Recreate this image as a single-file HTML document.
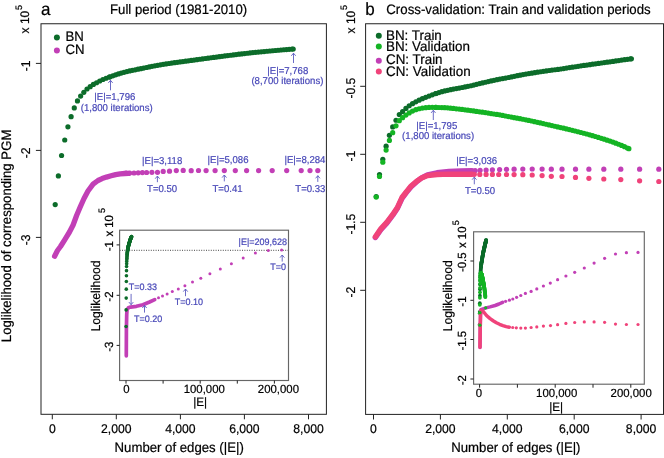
<!DOCTYPE html>
<html><head><meta charset="utf-8"><style>
html,body{margin:0;padding:0;background:#fff;}
body{width:664px;height:458px;overflow:hidden;}
svg{display:block;will-change:transform;}
text{font-family:"Liberation Sans", sans-serif;text-rendering:geometricPrecision;}
</style></head><body>
<svg width="664" height="458" viewBox="0 0 664 458" font-family='"Liberation Sans", sans-serif'>
<rect width="664" height="458" fill="#fff"/>
<rect x="41.00" y="23.75" width="285.40" height="390.55" fill="none" stroke="#222" stroke-width="1"/>
<line x1="35.90" y1="63.40" x2="41.00" y2="63.40" stroke="#222" stroke-width="1"/>
<line x1="35.90" y1="150.40" x2="41.00" y2="150.40" stroke="#222" stroke-width="1"/>
<line x1="35.90" y1="237.40" x2="41.00" y2="237.40" stroke="#222" stroke-width="1"/>
<line x1="52.30" y1="414.30" x2="52.30" y2="419.30" stroke="#222" stroke-width="1"/>
<line x1="116.30" y1="414.30" x2="116.30" y2="419.30" stroke="#222" stroke-width="1"/>
<line x1="180.40" y1="414.30" x2="180.40" y2="419.30" stroke="#222" stroke-width="1"/>
<line x1="244.40" y1="414.30" x2="244.40" y2="419.30" stroke="#222" stroke-width="1"/>
<line x1="308.50" y1="414.30" x2="308.50" y2="419.30" stroke="#222" stroke-width="1"/>
<text transform="translate(41.00,14.60) scale(1,1.04)" font-size="17" text-anchor="start" fill="#000" stroke="#000" stroke-width="0.2">a</text>
<text transform="translate(110.05,14.45) scale(1,1.04)" font-size="13.2" text-anchor="start" fill="#000" stroke="#000" stroke-width="0.2">Full period (1981-2010)</text>
<text transform="translate(28.70,33.40) rotate(-90) scale(1,1.04)" font-size="12" text-anchor="start" fill="#000" stroke="#000" stroke-width="0.2">x 10</text>
<text transform="translate(21.60,10.00) rotate(-90) scale(1,1.04)" font-size="9" text-anchor="start" fill="#000" stroke="#000" stroke-width="0.2">5</text>
<text transform="translate(11.10,342.20) rotate(-90) scale(1,1.04)" font-size="13.2" text-anchor="start" fill="#000" stroke="#000" stroke-width="0.2">Loglikelihood of corresponding PGM</text>
<text transform="translate(30.00,65.90) rotate(-90) scale(1,1.04)" font-size="12.2" text-anchor="middle" fill="#000" stroke="#000" stroke-width="0.2">-1</text>
<text transform="translate(30.00,152.90) rotate(-90) scale(1,1.04)" font-size="12.2" text-anchor="middle" fill="#000" stroke="#000" stroke-width="0.2">-2</text>
<text transform="translate(30.00,239.90) rotate(-90) scale(1,1.04)" font-size="12.2" text-anchor="middle" fill="#000" stroke="#000" stroke-width="0.2">-3</text>
<text transform="translate(52.30,432.60) scale(1,1.04)" font-size="12.2" text-anchor="middle" fill="#000" stroke="#000" stroke-width="0.2">0</text>
<text transform="translate(116.30,432.60) scale(1,1.04)" font-size="12.2" text-anchor="middle" fill="#000" stroke="#000" stroke-width="0.2">2,000</text>
<text transform="translate(180.40,432.60) scale(1,1.04)" font-size="12.2" text-anchor="middle" fill="#000" stroke="#000" stroke-width="0.2">4,000</text>
<text transform="translate(244.40,432.60) scale(1,1.04)" font-size="12.2" text-anchor="middle" fill="#000" stroke="#000" stroke-width="0.2">6,000</text>
<text transform="translate(308.50,432.60) scale(1,1.04)" font-size="12.2" text-anchor="middle" fill="#000" stroke="#000" stroke-width="0.2">8,000</text>
<text transform="translate(114.55,451.70) scale(1,1.04)" font-size="13.2" text-anchor="start" fill="#000" stroke="#000" stroke-width="0.2">Number of edges (|E|)</text>
<g fill="#0c6c2a"><circle cx="56.90" cy="37.50" r="3"/></g>
<g fill="#c23fb6"><circle cx="56.90" cy="50.60" r="3"/></g>
<text transform="translate(65.40,41.00) scale(1,1.04)" font-size="13.2" text-anchor="start" fill="#000" stroke="#000" stroke-width="0.2">BN</text>
<text transform="translate(65.40,53.90) scale(1,1.04)" font-size="13.2" text-anchor="start" fill="#000" stroke="#000" stroke-width="0.2">CN</text>
<polyline points="54.60,256.20 57.50,250.50 60.50,246.50 65.00,239.30 69.50,232.00 73.10,225.00 76.60,215.50 80.20,207.00 84.00,198.50 88.00,191.00 93.10,184.20 98.00,180.50 102.10,178.60 106.50,177.10 111.10,175.80 115.60,174.60 120.20,173.80 124.70,173.50 128.50,173.40" fill="none" stroke="#c23fb6" stroke-width="5.3" stroke-linecap="round" stroke-linejoin="round"/>
<g fill="#c23fb6"><circle cx="126.10" cy="173.00" r="2.6"/><circle cx="129.70" cy="173.00" r="2.6"/><circle cx="134.00" cy="173.00" r="2.6"/><circle cx="138.20" cy="172.80" r="2.6"/><circle cx="142.40" cy="172.60" r="2.6"/><circle cx="146.60" cy="172.50" r="2.6"/><circle cx="151.90" cy="172.30" r="2.6"/><circle cx="157.50" cy="172.30" r="2.6"/><circle cx="163.20" cy="171.40" r="2.6"/><circle cx="169.50" cy="171.20" r="2.6"/><circle cx="176.30" cy="170.60" r="2.6"/><circle cx="183.20" cy="170.40" r="2.6"/><circle cx="191.20" cy="170.70" r="2.6"/><circle cx="198.50" cy="170.50" r="2.6"/><circle cx="206.10" cy="170.60" r="2.6"/><circle cx="215.10" cy="170.60" r="2.6"/><circle cx="224.30" cy="170.60" r="2.6"/><circle cx="235.30" cy="170.60" r="2.6"/><circle cx="246.60" cy="170.60" r="2.6"/><circle cx="258.60" cy="170.60" r="2.6"/><circle cx="272.20" cy="170.60" r="2.6"/><circle cx="286.70" cy="170.60" r="2.6"/><circle cx="301.20" cy="170.60" r="2.6"/><circle cx="310.00" cy="170.60" r="2.6"/><circle cx="317.80" cy="170.60" r="2.6"/></g>
<g fill="#0c6c2a"><circle cx="55.20" cy="204.60" r="2.6"/><circle cx="58.38" cy="175.94" r="2.6"/><circle cx="61.56" cy="155.51" r="2.6"/><circle cx="64.74" cy="140.02" r="2.6"/><circle cx="67.92" cy="126.83" r="2.6"/><circle cx="71.10" cy="116.69" r="2.6"/><circle cx="74.28" cy="107.95" r="2.6"/><circle cx="77.46" cy="100.89" r="2.6"/><circle cx="80.64" cy="96.08" r="2.6"/><circle cx="83.82" cy="92.28" r="2.6"/><circle cx="87.00" cy="89.00" r="2.6"/><circle cx="90.18" cy="86.64" r="2.6"/><circle cx="93.36" cy="84.47" r="2.6"/><circle cx="96.54" cy="82.76" r="2.6"/><circle cx="99.72" cy="81.00" r="2.6"/><circle cx="102.90" cy="79.51" r="2.6"/><circle cx="106.08" cy="78.24" r="2.6"/><circle cx="109.26" cy="77.07" r="2.6"/><circle cx="110.00" cy="76.80" r="2.6"/><circle cx="112.80" cy="75.80" r="2.6"/><circle cx="115.60" cy="74.83" r="2.6"/><circle cx="118.40" cy="73.92" r="2.6"/><circle cx="121.20" cy="73.07" r="2.6"/><circle cx="124.00" cy="72.29" r="2.6"/><circle cx="126.80" cy="71.60" r="2.6"/><circle cx="129.60" cy="70.97" r="2.6"/><circle cx="132.40" cy="70.36" r="2.6"/><circle cx="135.20" cy="69.78" r="2.6"/><circle cx="138.00" cy="69.21" r="2.6"/><circle cx="140.80" cy="68.65" r="2.6"/><circle cx="143.60" cy="68.07" r="2.6"/><circle cx="146.40" cy="67.49" r="2.6"/><circle cx="149.20" cy="66.92" r="2.6"/><circle cx="152.00" cy="66.35" r="2.6"/><circle cx="154.80" cy="65.81" r="2.6"/><circle cx="157.60" cy="65.29" r="2.6"/><circle cx="160.40" cy="64.80" r="2.6"/><circle cx="163.20" cy="64.34" r="2.6"/><circle cx="166.00" cy="63.91" r="2.6"/><circle cx="168.80" cy="63.50" r="2.6"/><circle cx="171.60" cy="63.10" r="2.6"/><circle cx="174.40" cy="62.71" r="2.6"/><circle cx="177.20" cy="62.32" r="2.6"/><circle cx="180.00" cy="61.93" r="2.6"/><circle cx="182.80" cy="61.54" r="2.6"/><circle cx="185.60" cy="61.15" r="2.6"/><circle cx="188.40" cy="60.78" r="2.6"/><circle cx="191.20" cy="60.40" r="2.6"/><circle cx="194.00" cy="60.03" r="2.6"/><circle cx="196.80" cy="59.65" r="2.6"/><circle cx="199.60" cy="59.26" r="2.6"/><circle cx="202.40" cy="58.88" r="2.6"/><circle cx="205.20" cy="58.51" r="2.6"/><circle cx="208.00" cy="58.14" r="2.6"/><circle cx="210.80" cy="57.77" r="2.6"/><circle cx="213.60" cy="57.40" r="2.6"/><circle cx="216.40" cy="57.04" r="2.6"/><circle cx="219.20" cy="56.68" r="2.6"/><circle cx="222.00" cy="56.31" r="2.6"/><circle cx="224.80" cy="55.95" r="2.6"/><circle cx="227.60" cy="55.60" r="2.6"/><circle cx="230.40" cy="55.24" r="2.6"/><circle cx="233.20" cy="54.90" r="2.6"/><circle cx="236.00" cy="54.56" r="2.6"/><circle cx="238.80" cy="54.22" r="2.6"/><circle cx="241.60" cy="53.88" r="2.6"/><circle cx="244.40" cy="53.55" r="2.6"/><circle cx="247.20" cy="53.23" r="2.6"/><circle cx="250.00" cy="52.92" r="2.6"/><circle cx="252.80" cy="52.62" r="2.6"/><circle cx="255.60" cy="52.34" r="2.6"/><circle cx="258.40" cy="52.06" r="2.6"/><circle cx="261.20" cy="51.79" r="2.6"/><circle cx="264.00" cy="51.53" r="2.6"/><circle cx="266.80" cy="51.26" r="2.6"/><circle cx="269.60" cy="51.00" r="2.6"/><circle cx="272.40" cy="50.74" r="2.6"/><circle cx="275.20" cy="50.49" r="2.6"/><circle cx="278.00" cy="50.24" r="2.6"/><circle cx="280.80" cy="50.00" r="2.6"/><circle cx="283.60" cy="49.76" r="2.6"/><circle cx="286.40" cy="49.53" r="2.6"/><circle cx="289.20" cy="49.31" r="2.6"/><circle cx="292.00" cy="49.10" r="2.6"/><circle cx="293.20" cy="49.01" r="2.6"/></g>
<text transform="translate(114.85,100.10) scale(1,1.04)" font-size="9.6" text-anchor="middle" fill="#4848b8" stroke="#4848b8" stroke-width="0.2">|E|=1,796</text>
<text transform="translate(116.70,110.50) scale(1,1.04)" font-size="9.6" text-anchor="middle" fill="#4848b8" stroke="#4848b8" stroke-width="0.2">(1,800 iterations)</text>
<path d="M110.50,90.30 L110.50,80.30 M108.30,82.90 L110.50,80.30 L112.70,82.90" fill="none" stroke="#5a5ac0" stroke-width="0.9"/>
<text transform="translate(287.75,73.80) scale(1,1.04)" font-size="9.6" text-anchor="middle" fill="#4848b8" stroke="#4848b8" stroke-width="0.2">|E|=7,768</text>
<text transform="translate(287.40,84.00) scale(1,1.04)" font-size="9.6" text-anchor="middle" fill="#4848b8" stroke="#4848b8" stroke-width="0.2">(8,700 iterations)</text>
<path d="M293.50,63.00 L293.50,53.20 M291.30,55.80 L293.50,53.20 L295.70,55.80" fill="none" stroke="#5a5ac0" stroke-width="0.9"/>
<text transform="translate(162.15,164.20) scale(1,1.04)" font-size="9.6" text-anchor="middle" fill="#4848b8" stroke="#4848b8" stroke-width="0.2">|E|=3,118</text>
<path d="M157.40,182.20 L157.40,176.10 M155.20,178.70 L157.40,176.10 L159.60,178.70" fill="none" stroke="#5a5ac0" stroke-width="0.9"/>
<text transform="translate(162.10,191.80) scale(1,1.04)" font-size="9.6" text-anchor="middle" fill="#4848b8" stroke="#4848b8" stroke-width="0.2">T=0.50</text>
<text transform="translate(228.00,162.80) scale(1,1.04)" font-size="9.6" text-anchor="middle" fill="#4848b8" stroke="#4848b8" stroke-width="0.2">|E|=5,086</text>
<path d="M224.30,181.40 L224.30,175.00 M222.10,177.60 L224.30,175.00 L226.50,177.60" fill="none" stroke="#5a5ac0" stroke-width="0.9"/>
<text transform="translate(227.50,191.70) scale(1,1.04)" font-size="9.6" text-anchor="middle" fill="#4848b8" stroke="#4848b8" stroke-width="0.2">T=0.41</text>
<text transform="translate(304.90,162.60) scale(1,1.04)" font-size="9.6" text-anchor="middle" fill="#4848b8" stroke="#4848b8" stroke-width="0.2">|E|=8,284</text>
<path d="M317.80,181.90 L317.80,175.70 M315.60,178.30 L317.80,175.70 L320.00,178.30" fill="none" stroke="#5a5ac0" stroke-width="0.9"/>
<text transform="translate(310.35,191.70) scale(1,1.04)" font-size="9.6" text-anchor="middle" fill="#4848b8" stroke="#4848b8" stroke-width="0.2">T=0.33</text>
<rect x="119.6" y="230.2" width="168.90" height="150.30" fill="#fff" stroke="none"/>
<line x1="119.60" y1="250.30" x2="288.50" y2="250.30" stroke="#444" stroke-width="1" stroke-dasharray="1 1.4"/>
<polyline points="126.30,355.80 126.40,330.00 126.70,315.00 127.00,310.00 128.40,307.80 130.50,307.10 136.40,306.30 142.90,304.70 149.50,302.00 154.70,299.60" fill="none" stroke="#c23fb6" stroke-width="3.7" stroke-linecap="round" stroke-linejoin="round"/>
<g fill="#c23fb6"><circle cx="158.50" cy="297.70" r="1.5"/><circle cx="162.50" cy="295.90" r="1.5"/><circle cx="167.10" cy="294.00" r="1.5"/><circle cx="172.30" cy="291.60" r="1.5"/><circle cx="178.30" cy="289.00" r="1.5"/><circle cx="184.90" cy="285.80" r="1.5"/><circle cx="192.50" cy="282.10" r="1.5"/><circle cx="200.80" cy="278.30" r="1.5"/><circle cx="209.90" cy="273.70" r="1.5"/><circle cx="220.30" cy="268.90" r="1.5"/><circle cx="231.40" cy="263.70" r="1.5"/><circle cx="243.20" cy="258.00" r="1.5"/><circle cx="255.40" cy="252.90" r="1.5"/><circle cx="268.30" cy="250.40" r="1.5"/><circle cx="281.60" cy="250.00" r="1.5"/></g>
<g fill="#0c6c2a"><circle cx="126.07" cy="326.46" r="1.8"/><circle cx="126.14" cy="309.90" r="1.8"/><circle cx="126.21" cy="298.10" r="1.8"/><circle cx="126.29" cy="289.16" r="1.8"/><circle cx="126.36" cy="281.54" r="1.8"/><circle cx="126.44" cy="275.68" r="1.8"/><circle cx="126.51" cy="270.63" r="1.8"/><circle cx="126.58" cy="266.56" r="1.8"/><circle cx="126.66" cy="263.78" r="1.8"/><circle cx="126.73" cy="261.58" r="1.8"/><circle cx="126.80" cy="259.69" r="1.8"/><circle cx="126.88" cy="258.33" r="1.8"/><circle cx="126.95" cy="257.07" r="1.8"/><circle cx="127.03" cy="256.08" r="1.8"/><circle cx="127.10" cy="255.07" r="1.8"/><circle cx="127.17" cy="254.21" r="1.8"/><circle cx="127.25" cy="253.47" r="1.8"/><circle cx="127.32" cy="252.80" r="1.8"/><circle cx="127.34" cy="252.64" r="1.8"/><circle cx="127.40" cy="252.06" r="1.8"/><circle cx="127.47" cy="251.50" r="1.8"/><circle cx="127.53" cy="250.98" r="1.8"/><circle cx="127.60" cy="250.48" r="1.8"/><circle cx="127.66" cy="250.04" r="1.8"/><circle cx="127.73" cy="249.64" r="1.8"/><circle cx="127.79" cy="249.27" r="1.8"/><circle cx="127.86" cy="248.92" r="1.8"/><circle cx="127.92" cy="248.58" r="1.8"/><circle cx="127.99" cy="248.26" r="1.8"/><circle cx="128.05" cy="247.93" r="1.8"/><circle cx="128.12" cy="247.60" r="1.8"/><circle cx="128.18" cy="247.26" r="1.8"/><circle cx="128.25" cy="246.93" r="1.8"/><circle cx="128.31" cy="246.61" r="1.8"/><circle cx="128.37" cy="246.29" r="1.8"/><circle cx="128.44" cy="245.99" r="1.8"/><circle cx="128.50" cy="245.71" r="1.8"/><circle cx="128.57" cy="245.45" r="1.8"/><circle cx="128.63" cy="245.20" r="1.8"/><circle cx="128.70" cy="244.96" r="1.8"/><circle cx="128.76" cy="244.73" r="1.8"/><circle cx="128.83" cy="244.50" r="1.8"/><circle cx="128.89" cy="244.28" r="1.8"/><circle cx="128.96" cy="244.05" r="1.8"/><circle cx="129.02" cy="243.83" r="1.8"/><circle cx="129.09" cy="243.60" r="1.8"/><circle cx="129.15" cy="243.38" r="1.8"/><circle cx="129.22" cy="243.17" r="1.8"/><circle cx="129.28" cy="242.95" r="1.8"/><circle cx="129.35" cy="242.73" r="1.8"/><circle cx="129.41" cy="242.51" r="1.8"/><circle cx="129.48" cy="242.29" r="1.8"/><circle cx="129.54" cy="242.07" r="1.8"/><circle cx="129.61" cy="241.86" r="1.8"/><circle cx="129.67" cy="241.65" r="1.8"/><circle cx="129.74" cy="241.44" r="1.8"/><circle cx="129.80" cy="241.23" r="1.8"/><circle cx="129.87" cy="241.02" r="1.8"/><circle cx="129.93" cy="240.81" r="1.8"/><circle cx="130.00" cy="240.60" r="1.8"/><circle cx="130.06" cy="240.39" r="1.8"/><circle cx="130.13" cy="240.19" r="1.8"/><circle cx="130.19" cy="239.99" r="1.8"/><circle cx="130.26" cy="239.79" r="1.8"/><circle cx="130.32" cy="239.60" r="1.8"/><circle cx="130.39" cy="239.40" r="1.8"/><circle cx="130.45" cy="239.21" r="1.8"/><circle cx="130.52" cy="239.02" r="1.8"/><circle cx="130.58" cy="238.85" r="1.8"/><circle cx="130.65" cy="238.67" r="1.8"/><circle cx="130.71" cy="238.51" r="1.8"/><circle cx="130.78" cy="238.35" r="1.8"/><circle cx="130.84" cy="238.19" r="1.8"/><circle cx="130.91" cy="238.04" r="1.8"/><circle cx="130.97" cy="237.89" r="1.8"/><circle cx="131.03" cy="237.74" r="1.8"/><circle cx="131.10" cy="237.59" r="1.8"/><circle cx="131.16" cy="237.44" r="1.8"/><circle cx="131.23" cy="237.30" r="1.8"/><circle cx="131.29" cy="237.16" r="1.8"/><circle cx="131.36" cy="237.02" r="1.8"/><circle cx="131.42" cy="236.89" r="1.8"/><circle cx="131.49" cy="236.76" r="1.8"/><circle cx="131.55" cy="236.64" r="1.8"/><circle cx="131.58" cy="236.59" r="1.8"/></g>
<rect x="119.60" y="230.20" width="168.90" height="150.30" fill="none" stroke="#666" stroke-width="1.15"/>
<line x1="116.60" y1="244.90" x2="119.60" y2="244.90" stroke="#222" stroke-width="1"/>
<line x1="116.60" y1="295.30" x2="119.60" y2="295.30" stroke="#222" stroke-width="1"/>
<line x1="116.60" y1="345.40" x2="119.60" y2="345.40" stroke="#222" stroke-width="1"/>
<line x1="126.00" y1="380.50" x2="126.00" y2="383.60" stroke="#222" stroke-width="1"/>
<line x1="163.10" y1="380.50" x2="163.10" y2="383.60" stroke="#222" stroke-width="1"/>
<line x1="200.20" y1="380.50" x2="200.20" y2="383.60" stroke="#222" stroke-width="1"/>
<line x1="237.30" y1="380.50" x2="237.30" y2="383.60" stroke="#222" stroke-width="1"/>
<line x1="274.40" y1="380.50" x2="274.40" y2="383.60" stroke="#222" stroke-width="1"/>
<text transform="translate(113.00,246.20) rotate(-90) scale(1,1.04)" font-size="11.4" text-anchor="middle" fill="#000" stroke="#000" stroke-width="0.2">-1</text>
<text transform="translate(113.00,296.60) rotate(-90) scale(1,1.04)" font-size="11.4" text-anchor="middle" fill="#000" stroke="#000" stroke-width="0.2">-2</text>
<text transform="translate(113.00,346.70) rotate(-90) scale(1,1.04)" font-size="11.4" text-anchor="middle" fill="#000" stroke="#000" stroke-width="0.2">-3</text>
<text transform="translate(112.60,236.60) rotate(-90) scale(1,1.04)" font-size="11.4" text-anchor="start" fill="#000" stroke="#000" stroke-width="0.2">x 10</text>
<text transform="translate(104.90,213.00) rotate(-90) scale(1,1.04)" font-size="9" text-anchor="start" fill="#000" stroke="#000" stroke-width="0.2">5</text>
<text transform="translate(99.80,331.50) rotate(-90) scale(1,1.04)" font-size="12.2" text-anchor="start" fill="#000" stroke="#000" stroke-width="0.2">Loglikelihood</text>
<text transform="translate(126.50,393.40) scale(1,1.04)" font-size="11.4" text-anchor="middle" fill="#000" stroke="#000" stroke-width="0.2">0</text>
<text transform="translate(204.25,393.40) scale(1,1.04)" font-size="11.4" text-anchor="middle" fill="#000" stroke="#000" stroke-width="0.2">100,000</text>
<text transform="translate(278.40,393.40) scale(1,1.04)" font-size="11.4" text-anchor="middle" fill="#000" stroke="#000" stroke-width="0.2">200,000</text>
<text transform="translate(200.10,406.10) scale(1,1.04)" font-size="11.7" text-anchor="middle" fill="#000" stroke="#000" stroke-width="0.2">|E|</text>
<text transform="translate(262.80,245.40) scale(1,1.04)" font-size="9.0" text-anchor="middle" fill="#4848b8" stroke="#4848b8" stroke-width="0.2">|E|=209,628</text>
<path d="M282.20,261.60 L282.20,255.00 M280.00,257.60 L282.20,255.00 L284.40,257.60" fill="none" stroke="#5a5ac0" stroke-width="0.9"/>
<text transform="translate(278.10,270.40) scale(1,1.04)" font-size="9.0" text-anchor="middle" fill="#4848b8" stroke="#4848b8" stroke-width="0.2">T=0</text>
<text transform="translate(142.95,290.40) scale(1,1.04)" font-size="9.0" text-anchor="middle" fill="#4848b8" stroke="#4848b8" stroke-width="0.2">T=0.33</text>
<path d="M131.10,293.90 L131.10,304.70 M128.90,302.10 L131.10,304.70 L133.30,302.10" fill="none" stroke="#5a5ac0" stroke-width="0.9"/>
<text transform="translate(148.15,322.00) scale(1,1.04)" font-size="9.0" text-anchor="middle" fill="#4848b8" stroke="#4848b8" stroke-width="0.2">T=0.20</text>
<path d="M144.50,312.60 L144.50,305.40 M142.30,308.00 L144.50,305.40 L146.70,308.00" fill="none" stroke="#5a5ac0" stroke-width="0.9"/>
<text transform="translate(189.00,305.40) scale(1,1.04)" font-size="9.0" text-anchor="middle" fill="#4848b8" stroke="#4848b8" stroke-width="0.2">T=0.10</text>
<path d="M185.50,296.20 L185.50,289.00 M183.30,291.60 L185.50,289.00 L187.70,291.60" fill="none" stroke="#5a5ac0" stroke-width="0.9"/>
<rect x="365.60" y="23.75" width="297.90" height="390.65" fill="none" stroke="#222" stroke-width="1"/>
<line x1="360.20" y1="86.30" x2="365.60" y2="86.30" stroke="#222" stroke-width="1"/>
<line x1="360.20" y1="154.30" x2="365.60" y2="154.30" stroke="#222" stroke-width="1"/>
<line x1="360.20" y1="222.30" x2="365.60" y2="222.30" stroke="#222" stroke-width="1"/>
<line x1="360.20" y1="290.30" x2="365.60" y2="290.30" stroke="#222" stroke-width="1"/>
<line x1="373.50" y1="414.40" x2="373.50" y2="419.50" stroke="#222" stroke-width="1"/>
<line x1="440.40" y1="414.40" x2="440.40" y2="419.50" stroke="#222" stroke-width="1"/>
<line x1="507.30" y1="414.40" x2="507.30" y2="419.50" stroke="#222" stroke-width="1"/>
<line x1="574.20" y1="414.40" x2="574.20" y2="419.50" stroke="#222" stroke-width="1"/>
<line x1="641.10" y1="414.40" x2="641.10" y2="419.50" stroke="#222" stroke-width="1"/>
<text transform="translate(365.20,14.50) scale(1,1.04)" font-size="17" text-anchor="start" fill="#000" stroke="#000" stroke-width="0.2">b</text>
<text transform="translate(386.30,14.45) scale(1,1.04)" font-size="13.26" text-anchor="start" fill="#000" stroke="#000" stroke-width="0.2">Cross-validation: Train and validation periods</text>
<text transform="translate(354.50,33.40) rotate(-90) scale(1,1.04)" font-size="12" text-anchor="start" fill="#000" stroke="#000" stroke-width="0.2">x 10</text>
<text transform="translate(347.40,10.00) rotate(-90) scale(1,1.04)" font-size="9" text-anchor="start" fill="#000" stroke="#000" stroke-width="0.2">5</text>
<text transform="translate(355.10,88.10) rotate(-90) scale(1,1.04)" font-size="12.2" text-anchor="middle" fill="#000" stroke="#000" stroke-width="0.2">-0.5</text>
<text transform="translate(355.10,156.10) rotate(-90) scale(1,1.04)" font-size="12.2" text-anchor="middle" fill="#000" stroke="#000" stroke-width="0.2">-1</text>
<text transform="translate(355.10,224.10) rotate(-90) scale(1,1.04)" font-size="12.2" text-anchor="middle" fill="#000" stroke="#000" stroke-width="0.2">-1.5</text>
<text transform="translate(355.10,292.10) rotate(-90) scale(1,1.04)" font-size="12.2" text-anchor="middle" fill="#000" stroke="#000" stroke-width="0.2">-2</text>
<text transform="translate(373.50,432.80) scale(1,1.04)" font-size="12.2" text-anchor="middle" fill="#000" stroke="#000" stroke-width="0.2">0</text>
<text transform="translate(440.40,432.80) scale(1,1.04)" font-size="12.2" text-anchor="middle" fill="#000" stroke="#000" stroke-width="0.2">2,000</text>
<text transform="translate(507.30,432.80) scale(1,1.04)" font-size="12.2" text-anchor="middle" fill="#000" stroke="#000" stroke-width="0.2">4,000</text>
<text transform="translate(574.20,432.80) scale(1,1.04)" font-size="12.2" text-anchor="middle" fill="#000" stroke="#000" stroke-width="0.2">6,000</text>
<text transform="translate(641.10,432.80) scale(1,1.04)" font-size="12.2" text-anchor="middle" fill="#000" stroke="#000" stroke-width="0.2">8,000</text>
<text transform="translate(451.25,451.70) scale(1,1.04)" font-size="13.2" text-anchor="start" fill="#000" stroke="#000" stroke-width="0.2">Number of edges (|E|)</text>
<g fill="#0c6c2a"><circle cx="378.80" cy="35.80" r="3"/></g>
<text transform="translate(386.00,39.60) scale(1,1.04)" font-size="13.4" text-anchor="start" fill="#000" stroke="#000" stroke-width="0.2">BN: Train</text>
<g fill="#14b424"><circle cx="378.80" cy="46.60" r="3"/></g>
<text transform="translate(386.00,50.50) scale(1,1.04)" font-size="13.4" text-anchor="start" fill="#000" stroke="#000" stroke-width="0.2">BN: Validation</text>
<g fill="#c23fb6"><circle cx="378.80" cy="60.80" r="3"/></g>
<text transform="translate(386.00,64.10) scale(1,1.04)" font-size="13.4" text-anchor="start" fill="#000" stroke="#000" stroke-width="0.2">CN: Train</text>
<g fill="#f0437a"><circle cx="378.80" cy="71.60" r="3"/></g>
<text transform="translate(386.00,75.80) scale(1,1.04)" font-size="13.4" text-anchor="start" fill="#000" stroke="#000" stroke-width="0.2">CN: Validation</text>
<g fill="#0c6c2a"><circle cx="376.20" cy="196.50" r="2.6"/><circle cx="379.50" cy="174.55" r="2.6"/><circle cx="382.80" cy="159.24" r="2.6"/><circle cx="386.10" cy="146.22" r="2.6"/><circle cx="389.40" cy="135.29" r="2.6"/><circle cx="392.70" cy="126.97" r="2.6"/><circle cx="396.00" cy="120.26" r="2.6"/><circle cx="399.30" cy="114.60" r="2.6"/><circle cx="402.60" cy="111.58" r="2.6"/><circle cx="405.90" cy="108.40" r="2.6"/><circle cx="409.20" cy="105.74" r="2.6"/><circle cx="412.50" cy="103.65" r="2.6"/><circle cx="415.80" cy="101.84" r="2.6"/><circle cx="419.10" cy="100.17" r="2.6"/><circle cx="422.40" cy="98.68" r="2.6"/><circle cx="425.70" cy="97.33" r="2.6"/><circle cx="429.00" cy="96.08" r="2.6"/><circle cx="432.30" cy="94.83" r="2.6"/><circle cx="435.60" cy="93.62" r="2.6"/><circle cx="436.00" cy="93.48" r="2.6"/><circle cx="438.90" cy="92.54" r="2.6"/><circle cx="441.80" cy="91.71" r="2.6"/><circle cx="444.70" cy="90.97" r="2.6"/><circle cx="447.60" cy="90.31" r="2.6"/><circle cx="450.50" cy="89.69" r="2.6"/><circle cx="453.40" cy="89.12" r="2.6"/><circle cx="456.30" cy="88.57" r="2.6"/><circle cx="459.20" cy="88.03" r="2.6"/><circle cx="462.10" cy="87.48" r="2.6"/><circle cx="465.00" cy="86.93" r="2.6"/><circle cx="467.90" cy="86.35" r="2.6"/><circle cx="470.80" cy="85.73" r="2.6"/><circle cx="473.70" cy="85.03" r="2.6"/><circle cx="476.60" cy="84.32" r="2.6"/><circle cx="479.50" cy="83.61" r="2.6"/><circle cx="482.40" cy="82.92" r="2.6"/><circle cx="485.30" cy="82.23" r="2.6"/><circle cx="488.20" cy="81.56" r="2.6"/><circle cx="491.10" cy="80.92" r="2.6"/><circle cx="494.00" cy="80.31" r="2.6"/><circle cx="496.90" cy="79.70" r="2.6"/><circle cx="499.80" cy="79.05" r="2.6"/><circle cx="502.70" cy="78.56" r="2.6"/><circle cx="505.60" cy="78.04" r="2.6"/><circle cx="508.50" cy="77.48" r="2.6"/><circle cx="511.40" cy="76.90" r="2.6"/><circle cx="514.30" cy="76.31" r="2.6"/><circle cx="517.20" cy="75.72" r="2.6"/><circle cx="520.10" cy="75.14" r="2.6"/><circle cx="523.00" cy="74.59" r="2.6"/><circle cx="525.90" cy="74.08" r="2.6"/><circle cx="528.80" cy="73.61" r="2.6"/><circle cx="531.70" cy="73.13" r="2.6"/><circle cx="534.60" cy="72.66" r="2.6"/><circle cx="537.50" cy="72.19" r="2.6"/><circle cx="540.40" cy="71.74" r="2.6"/><circle cx="543.30" cy="71.30" r="2.6"/><circle cx="546.20" cy="70.88" r="2.6"/><circle cx="549.10" cy="70.48" r="2.6"/><circle cx="552.00" cy="70.10" r="2.6"/><circle cx="554.90" cy="69.73" r="2.6"/><circle cx="557.80" cy="69.39" r="2.6"/><circle cx="560.70" cy="69.02" r="2.6"/><circle cx="563.60" cy="68.54" r="2.6"/><circle cx="566.50" cy="68.08" r="2.6"/><circle cx="569.40" cy="67.62" r="2.6"/><circle cx="572.30" cy="67.18" r="2.6"/><circle cx="575.20" cy="66.74" r="2.6"/><circle cx="578.10" cy="66.30" r="2.6"/><circle cx="581.00" cy="65.87" r="2.6"/><circle cx="583.90" cy="65.45" r="2.6"/><circle cx="586.80" cy="65.04" r="2.6"/><circle cx="589.70" cy="64.63" r="2.6"/><circle cx="592.60" cy="64.21" r="2.6"/><circle cx="595.50" cy="63.79" r="2.6"/><circle cx="598.40" cy="63.38" r="2.6"/><circle cx="601.30" cy="62.98" r="2.6"/><circle cx="604.20" cy="62.58" r="2.6"/><circle cx="607.10" cy="62.18" r="2.6"/><circle cx="610.00" cy="61.79" r="2.6"/><circle cx="612.90" cy="61.39" r="2.6"/><circle cx="615.80" cy="60.96" r="2.6"/><circle cx="618.70" cy="60.53" r="2.6"/><circle cx="621.60" cy="60.11" r="2.6"/><circle cx="624.50" cy="59.70" r="2.6"/><circle cx="627.40" cy="59.28" r="2.6"/><circle cx="630.30" cy="58.88" r="2.6"/><circle cx="631.40" cy="58.73" r="2.6"/></g>
<g fill="#14b424"><circle cx="376.20" cy="197.10" r="2.6"/><circle cx="379.50" cy="176.51" r="2.6"/><circle cx="382.80" cy="162.19" r="2.6"/><circle cx="386.10" cy="150.05" r="2.6"/><circle cx="389.40" cy="140.43" r="2.6"/><circle cx="392.70" cy="132.69" r="2.6"/><circle cx="396.00" cy="125.80" r="2.6"/><circle cx="399.30" cy="120.67" r="2.6"/><circle cx="402.60" cy="117.67" r="2.6"/><circle cx="405.90" cy="115.12" r="2.6"/><circle cx="409.20" cy="112.89" r="2.6"/><circle cx="412.50" cy="111.11" r="2.6"/><circle cx="415.80" cy="109.70" r="2.6"/><circle cx="419.10" cy="108.73" r="2.6"/><circle cx="422.40" cy="108.06" r="2.6"/><circle cx="425.70" cy="107.71" r="2.6"/><circle cx="429.00" cy="107.46" r="2.6"/><circle cx="432.30" cy="107.34" r="2.6"/><circle cx="435.60" cy="107.39" r="2.6"/><circle cx="436.00" cy="107.40" r="2.6"/><circle cx="438.90" cy="107.48" r="2.6"/><circle cx="441.80" cy="107.58" r="2.6"/><circle cx="444.70" cy="107.68" r="2.6"/><circle cx="447.60" cy="107.85" r="2.6"/><circle cx="450.50" cy="108.13" r="2.6"/><circle cx="453.40" cy="108.46" r="2.6"/><circle cx="456.30" cy="108.79" r="2.6"/><circle cx="459.20" cy="109.10" r="2.6"/><circle cx="462.10" cy="109.43" r="2.6"/><circle cx="465.00" cy="109.78" r="2.6"/><circle cx="467.90" cy="110.14" r="2.6"/><circle cx="470.80" cy="110.53" r="2.6"/><circle cx="473.70" cy="110.94" r="2.6"/><circle cx="476.60" cy="111.38" r="2.6"/><circle cx="479.50" cy="111.83" r="2.6"/><circle cx="482.40" cy="112.17" r="2.6"/><circle cx="485.30" cy="112.59" r="2.6"/><circle cx="488.20" cy="113.05" r="2.6"/><circle cx="491.10" cy="113.53" r="2.6"/><circle cx="494.00" cy="114.01" r="2.6"/><circle cx="496.90" cy="114.47" r="2.6"/><circle cx="499.80" cy="114.87" r="2.6"/><circle cx="502.70" cy="115.45" r="2.6"/><circle cx="505.60" cy="116.01" r="2.6"/><circle cx="508.50" cy="116.56" r="2.6"/><circle cx="511.40" cy="117.10" r="2.6"/><circle cx="514.30" cy="117.63" r="2.6"/><circle cx="517.20" cy="118.17" r="2.6"/><circle cx="520.10" cy="118.71" r="2.6"/><circle cx="523.00" cy="119.25" r="2.6"/><circle cx="525.90" cy="119.81" r="2.6"/><circle cx="528.80" cy="120.40" r="2.6"/><circle cx="531.70" cy="121.01" r="2.6"/><circle cx="534.60" cy="121.64" r="2.6"/><circle cx="537.50" cy="122.28" r="2.6"/><circle cx="540.40" cy="122.93" r="2.6"/><circle cx="543.30" cy="123.59" r="2.6"/><circle cx="546.20" cy="124.25" r="2.6"/><circle cx="549.10" cy="124.91" r="2.6"/><circle cx="552.00" cy="125.58" r="2.6"/><circle cx="554.90" cy="126.24" r="2.6"/><circle cx="557.80" cy="126.90" r="2.6"/><circle cx="560.70" cy="127.55" r="2.6"/><circle cx="563.60" cy="128.21" r="2.6"/><circle cx="566.50" cy="128.89" r="2.6"/><circle cx="569.40" cy="129.58" r="2.6"/><circle cx="572.30" cy="130.28" r="2.6"/><circle cx="575.20" cy="131.01" r="2.6"/><circle cx="578.10" cy="131.77" r="2.6"/><circle cx="581.00" cy="132.48" r="2.6"/><circle cx="583.90" cy="133.23" r="2.6"/><circle cx="586.80" cy="134.00" r="2.6"/><circle cx="589.70" cy="134.80" r="2.6"/><circle cx="592.60" cy="135.64" r="2.6"/><circle cx="595.50" cy="136.50" r="2.6"/><circle cx="598.40" cy="137.41" r="2.6"/><circle cx="601.30" cy="138.29" r="2.6"/><circle cx="604.20" cy="139.19" r="2.6"/><circle cx="607.10" cy="140.13" r="2.6"/><circle cx="610.00" cy="141.11" r="2.6"/><circle cx="612.90" cy="142.12" r="2.6"/><circle cx="615.80" cy="143.17" r="2.6"/><circle cx="618.70" cy="144.25" r="2.6"/><circle cx="621.60" cy="145.43" r="2.6"/><circle cx="624.50" cy="146.70" r="2.6"/><circle cx="627.40" cy="148.01" r="2.6"/><circle cx="628.90" cy="148.70" r="2.6"/></g>
<polyline points="375.40,237.50 380.80,229.70 386.80,223.10 392.80,215.20 397.60,208.00 402.00,198.30 406.50,192.40 411.10,186.80 416.40,181.91 421.60,177.83 427.50,174.88 437.00,172.80 449.00,171.50 461.00,170.95 472.00,170.60" fill="none" stroke="#c23fb6" stroke-width="5.4" stroke-linecap="round" stroke-linejoin="round"/>
<g fill="#c23fb6"><circle cx="475.20" cy="170.50" r="2.6"/><circle cx="480.10" cy="170.30" r="2.6"/><circle cx="486.10" cy="170.10" r="2.6"/><circle cx="492.40" cy="169.80" r="2.6"/><circle cx="499.60" cy="169.50" r="2.6"/><circle cx="506.50" cy="169.30" r="2.6"/><circle cx="514.10" cy="169.20" r="2.6"/><circle cx="522.80" cy="169.10" r="2.6"/><circle cx="532.20" cy="169.00" r="2.6"/><circle cx="542.10" cy="169.10" r="2.6"/><circle cx="551.30" cy="169.20" r="2.6"/><circle cx="562.00" cy="169.20" r="2.6"/><circle cx="575.50" cy="169.20" r="2.6"/><circle cx="588.90" cy="169.20" r="2.6"/><circle cx="603.80" cy="169.20" r="2.6"/><circle cx="620.80" cy="169.20" r="2.6"/><circle cx="639.60" cy="169.20" r="2.6"/><circle cx="658.80" cy="169.20" r="2.6"/></g>
<polyline points="375.40,236.70 380.80,228.90 386.80,222.30 392.80,214.40 397.60,207.20 402.00,197.50 406.50,191.60 411.10,186.00 416.40,181.50 421.60,177.90 427.50,175.60 437.00,174.50 449.00,174.10 461.00,174.20 472.00,174.30" fill="none" stroke="#f0437a" stroke-width="5.4" stroke-linecap="round" stroke-linejoin="round"/>
<g fill="#f0437a"><circle cx="474.30" cy="174.30" r="2.6"/><circle cx="479.80" cy="174.40" r="2.6"/><circle cx="486.10" cy="174.40" r="2.6"/><circle cx="492.40" cy="174.40" r="2.6"/><circle cx="498.70" cy="174.50" r="2.6"/><circle cx="506.50" cy="174.50" r="2.6"/><circle cx="514.10" cy="174.60" r="2.6"/><circle cx="522.80" cy="174.70" r="2.6"/><circle cx="532.20" cy="175.00" r="2.6"/><circle cx="542.10" cy="175.60" r="2.6"/><circle cx="551.30" cy="176.30" r="2.6"/><circle cx="562.00" cy="176.50" r="2.6"/><circle cx="575.50" cy="177.40" r="2.6"/><circle cx="588.90" cy="178.30" r="2.6"/><circle cx="603.80" cy="179.00" r="2.6"/><circle cx="620.80" cy="179.60" r="2.6"/><circle cx="639.60" cy="180.80" r="2.6"/><circle cx="658.80" cy="181.50" r="2.6"/></g>
<text transform="translate(436.75,128.90) scale(1,1.04)" font-size="9.6" text-anchor="middle" fill="#4848b8" stroke="#4848b8" stroke-width="0.2">|E|=1,795</text>
<text transform="translate(438.10,138.60) scale(1,1.04)" font-size="9.6" text-anchor="middle" fill="#4848b8" stroke="#4848b8" stroke-width="0.2">(1,800 iterations)</text>
<path d="M433.30,120.00 L433.30,110.30 M431.10,112.90 L433.30,110.30 L435.50,112.90" fill="none" stroke="#5a5ac0" stroke-width="0.9"/>
<text transform="translate(476.70,163.60) scale(1,1.04)" font-size="9.6" text-anchor="middle" fill="#4848b8" stroke="#4848b8" stroke-width="0.2">|E|=3,036</text>
<path d="M474.30,184.30 L474.30,177.10 M472.10,179.70 L474.30,177.10 L476.50,179.70" fill="none" stroke="#5a5ac0" stroke-width="0.9"/>
<text transform="translate(480.00,193.90) scale(1,1.04)" font-size="9.6" text-anchor="middle" fill="#4848b8" stroke="#4848b8" stroke-width="0.2">T=0.50</text>
<rect x="473.6" y="231.8" width="170.70" height="152.40" fill="#fff" stroke="none"/>
<g fill="#0c6c2a"><circle cx="479.67" cy="324.68" r="1.9"/><circle cx="479.75" cy="312.00" r="1.9"/><circle cx="479.84" cy="303.15" r="1.9"/><circle cx="479.92" cy="295.63" r="1.9"/><circle cx="480.00" cy="289.31" r="1.9"/><circle cx="480.09" cy="284.50" r="1.9"/><circle cx="480.17" cy="280.63" r="1.9"/><circle cx="480.25" cy="277.35" r="1.9"/><circle cx="480.34" cy="275.61" r="1.9"/><circle cx="480.42" cy="273.77" r="1.9"/><circle cx="480.50" cy="272.23" r="1.9"/><circle cx="480.59" cy="271.02" r="1.9"/><circle cx="480.67" cy="269.98" r="1.9"/><circle cx="480.75" cy="269.02" r="1.9"/><circle cx="480.84" cy="268.10" r="1.9"/><circle cx="480.92" cy="267.24" r="1.9"/><circle cx="481.00" cy="266.44" r="1.9"/><circle cx="481.09" cy="265.64" r="1.9"/><circle cx="481.17" cy="264.86" r="1.9"/><circle cx="481.18" cy="264.77" r="1.9"/><circle cx="481.25" cy="264.16" r="1.9"/><circle cx="481.33" cy="263.61" r="1.9"/><circle cx="481.40" cy="263.11" r="1.9"/><circle cx="481.47" cy="262.66" r="1.9"/><circle cx="481.55" cy="262.24" r="1.9"/><circle cx="481.62" cy="261.84" r="1.9"/><circle cx="481.69" cy="261.45" r="1.9"/><circle cx="481.77" cy="261.07" r="1.9"/><circle cx="481.84" cy="260.69" r="1.9"/><circle cx="481.91" cy="260.30" r="1.9"/><circle cx="481.99" cy="259.90" r="1.9"/><circle cx="482.06" cy="259.47" r="1.9"/><circle cx="482.14" cy="258.99" r="1.9"/><circle cx="482.21" cy="258.52" r="1.9"/><circle cx="482.28" cy="258.04" r="1.9"/><circle cx="482.36" cy="257.57" r="1.9"/><circle cx="482.43" cy="257.10" r="1.9"/><circle cx="482.50" cy="256.65" r="1.9"/><circle cx="482.58" cy="256.21" r="1.9"/><circle cx="482.65" cy="255.79" r="1.9"/><circle cx="482.72" cy="255.36" r="1.9"/><circle cx="482.80" cy="254.92" r="1.9"/><circle cx="482.87" cy="254.57" r="1.9"/><circle cx="482.94" cy="254.20" r="1.9"/><circle cx="483.02" cy="253.81" r="1.9"/><circle cx="483.09" cy="253.41" r="1.9"/><circle cx="483.16" cy="252.99" r="1.9"/><circle cx="483.24" cy="252.58" r="1.9"/><circle cx="483.31" cy="252.18" r="1.9"/><circle cx="483.38" cy="251.80" r="1.9"/><circle cx="483.46" cy="251.44" r="1.9"/><circle cx="483.53" cy="251.09" r="1.9"/><circle cx="483.60" cy="250.75" r="1.9"/><circle cx="483.68" cy="250.40" r="1.9"/><circle cx="483.75" cy="250.07" r="1.9"/><circle cx="483.82" cy="249.74" r="1.9"/><circle cx="483.90" cy="249.42" r="1.9"/><circle cx="483.97" cy="249.11" r="1.9"/><circle cx="484.04" cy="248.80" r="1.9"/><circle cx="484.12" cy="248.51" r="1.9"/><circle cx="484.19" cy="248.24" r="1.9"/><circle cx="484.26" cy="247.97" r="1.9"/><circle cx="484.34" cy="247.68" r="1.9"/><circle cx="484.41" cy="247.34" r="1.9"/><circle cx="484.48" cy="247.00" r="1.9"/><circle cx="484.56" cy="246.67" r="1.9"/><circle cx="484.63" cy="246.35" r="1.9"/><circle cx="484.70" cy="246.02" r="1.9"/><circle cx="484.78" cy="245.70" r="1.9"/><circle cx="484.85" cy="245.39" r="1.9"/><circle cx="484.92" cy="245.08" r="1.9"/><circle cx="485.00" cy="244.77" r="1.9"/><circle cx="485.07" cy="244.46" r="1.9"/><circle cx="485.14" cy="244.15" r="1.9"/><circle cx="485.22" cy="243.84" r="1.9"/><circle cx="485.29" cy="243.54" r="1.9"/><circle cx="485.36" cy="243.23" r="1.9"/><circle cx="485.44" cy="242.93" r="1.9"/><circle cx="485.51" cy="242.64" r="1.9"/><circle cx="485.58" cy="242.34" r="1.9"/><circle cx="485.66" cy="242.04" r="1.9"/><circle cx="485.73" cy="241.73" r="1.9"/><circle cx="485.80" cy="241.41" r="1.9"/><circle cx="485.88" cy="241.10" r="1.9"/><circle cx="485.95" cy="240.79" r="1.9"/><circle cx="486.02" cy="240.48" r="1.9"/><circle cx="486.10" cy="240.18" r="1.9"/><circle cx="486.12" cy="240.07" r="1.9"/></g>
<g fill="#14b424"><circle cx="479.66" cy="325.03" r="1.9"/><circle cx="479.74" cy="313.13" r="1.9"/><circle cx="479.81" cy="304.85" r="1.9"/><circle cx="479.88" cy="297.84" r="1.9"/><circle cx="479.96" cy="292.28" r="1.9"/><circle cx="480.03" cy="287.81" r="1.9"/><circle cx="480.11" cy="283.82" r="1.9"/><circle cx="480.18" cy="280.86" r="1.9"/><circle cx="480.26" cy="279.13" r="1.9"/><circle cx="480.33" cy="277.65" r="1.9"/><circle cx="480.41" cy="276.37" r="1.9"/><circle cx="480.48" cy="275.34" r="1.9"/><circle cx="480.55" cy="274.52" r="1.9"/><circle cx="480.63" cy="273.96" r="1.9"/><circle cx="480.70" cy="273.58" r="1.9"/><circle cx="480.78" cy="273.37" r="1.9"/><circle cx="480.85" cy="273.23" r="1.9"/><circle cx="480.93" cy="273.16" r="1.9"/><circle cx="481.00" cy="273.19" r="1.9"/><circle cx="481.01" cy="273.19" r="1.9"/><circle cx="481.08" cy="273.24" r="1.9"/><circle cx="481.14" cy="273.30" r="1.9"/><circle cx="481.21" cy="273.36" r="1.9"/><circle cx="481.27" cy="273.46" r="1.9"/><circle cx="481.34" cy="273.62" r="1.9"/><circle cx="481.40" cy="273.81" r="1.9"/><circle cx="481.47" cy="273.99" r="1.9"/><circle cx="481.53" cy="274.18" r="1.9"/><circle cx="481.60" cy="274.37" r="1.9"/><circle cx="481.67" cy="274.57" r="1.9"/><circle cx="481.73" cy="274.78" r="1.9"/><circle cx="481.80" cy="275.00" r="1.9"/><circle cx="481.86" cy="275.24" r="1.9"/><circle cx="481.93" cy="275.50" r="1.9"/><circle cx="481.99" cy="275.75" r="1.9"/><circle cx="482.06" cy="275.95" r="1.9"/><circle cx="482.12" cy="276.19" r="1.9"/><circle cx="482.19" cy="276.46" r="1.9"/><circle cx="482.25" cy="276.74" r="1.9"/><circle cx="482.32" cy="277.01" r="1.9"/><circle cx="482.39" cy="277.28" r="1.9"/><circle cx="482.45" cy="277.51" r="1.9"/><circle cx="482.52" cy="277.84" r="1.9"/><circle cx="482.58" cy="278.17" r="1.9"/><circle cx="482.65" cy="278.49" r="1.9"/><circle cx="482.71" cy="278.80" r="1.9"/><circle cx="482.78" cy="279.11" r="1.9"/><circle cx="482.84" cy="279.42" r="1.9"/><circle cx="482.91" cy="279.73" r="1.9"/><circle cx="482.97" cy="280.04" r="1.9"/><circle cx="483.04" cy="280.37" r="1.9"/><circle cx="483.11" cy="280.71" r="1.9"/><circle cx="483.17" cy="281.06" r="1.9"/><circle cx="483.24" cy="281.42" r="1.9"/><circle cx="483.30" cy="281.79" r="1.9"/><circle cx="483.37" cy="282.17" r="1.9"/><circle cx="483.43" cy="282.55" r="1.9"/><circle cx="483.50" cy="282.93" r="1.9"/><circle cx="483.56" cy="283.32" r="1.9"/><circle cx="483.63" cy="283.70" r="1.9"/><circle cx="483.69" cy="284.08" r="1.9"/><circle cx="483.76" cy="284.46" r="1.9"/><circle cx="483.83" cy="284.84" r="1.9"/><circle cx="483.89" cy="285.22" r="1.9"/><circle cx="483.96" cy="285.61" r="1.9"/><circle cx="484.02" cy="286.01" r="1.9"/><circle cx="484.09" cy="286.42" r="1.9"/><circle cx="484.15" cy="286.84" r="1.9"/><circle cx="484.22" cy="287.28" r="1.9"/><circle cx="484.28" cy="287.69" r="1.9"/><circle cx="484.35" cy="288.12" r="1.9"/><circle cx="484.41" cy="288.57" r="1.9"/><circle cx="484.48" cy="289.03" r="1.9"/><circle cx="484.55" cy="289.51" r="1.9"/><circle cx="484.61" cy="290.01" r="1.9"/><circle cx="484.68" cy="290.53" r="1.9"/><circle cx="484.74" cy="291.04" r="1.9"/><circle cx="484.81" cy="291.57" r="1.9"/><circle cx="484.87" cy="292.11" r="1.9"/><circle cx="484.94" cy="292.67" r="1.9"/><circle cx="485.00" cy="293.26" r="1.9"/><circle cx="485.07" cy="293.86" r="1.9"/><circle cx="485.13" cy="294.49" r="1.9"/><circle cx="485.20" cy="295.17" r="1.9"/><circle cx="485.27" cy="295.91" r="1.9"/><circle cx="485.33" cy="296.66" r="1.9"/><circle cx="485.36" cy="297.06" r="1.9"/></g>
<polyline points="480.00,347.50 480.20,330.00 480.50,315.00 480.90,309.60 486.00,307.90 490.00,306.90 495.10,305.50 499.00,304.00 502.60,302.40" fill="none" stroke="#c23fb6" stroke-width="3.5" stroke-linecap="round" stroke-linejoin="round"/>
<g fill="#c23fb6"><circle cx="505.60" cy="301.30" r="1.6"/><circle cx="509.40" cy="300.20" r="1.6"/><circle cx="512.80" cy="299.00" r="1.6"/><circle cx="516.60" cy="297.30" r="1.6"/><circle cx="520.80" cy="295.50" r="1.6"/><circle cx="525.40" cy="293.40" r="1.6"/><circle cx="531.10" cy="291.40" r="1.6"/><circle cx="536.80" cy="288.90" r="1.6"/><circle cx="543.40" cy="286.00" r="1.6"/><circle cx="550.30" cy="283.10" r="1.6"/><circle cx="557.60" cy="279.70" r="1.6"/><circle cx="565.90" cy="276.00" r="1.6"/><circle cx="574.70" cy="272.30" r="1.6"/><circle cx="584.30" cy="268.00" r="1.6"/><circle cx="594.10" cy="263.10" r="1.6"/><circle cx="604.60" cy="258.30" r="1.6"/><circle cx="615.50" cy="254.00" r="1.6"/><circle cx="626.40" cy="252.70" r="1.6"/><circle cx="638.00" cy="252.40" r="1.6"/></g>
<polyline points="480.00,347.20 480.20,330.00 480.50,315.00 481.00,310.40 483.30,311.50 486.50,315.50 489.80,318.40 493.10,320.70 496.40,322.70 499.60,324.30 502.90,325.60 506.20,326.60 509.30,327.20" fill="none" stroke="#f0437a" stroke-width="3.5" stroke-linecap="round" stroke-linejoin="round"/>
<g fill="#f0437a"><circle cx="512.70" cy="327.50" r="1.6"/><circle cx="516.30" cy="327.80" r="1.6"/><circle cx="520.80" cy="328.10" r="1.6"/><circle cx="525.40" cy="328.10" r="1.6"/><circle cx="531.10" cy="327.50" r="1.6"/><circle cx="536.80" cy="326.90" r="1.6"/><circle cx="543.40" cy="326.10" r="1.6"/><circle cx="550.50" cy="325.60" r="1.6"/><circle cx="557.60" cy="324.70" r="1.6"/><circle cx="565.90" cy="323.40" r="1.6"/><circle cx="574.70" cy="322.50" r="1.6"/><circle cx="584.30" cy="321.90" r="1.6"/><circle cx="594.10" cy="321.90" r="1.6"/><circle cx="604.60" cy="322.30" r="1.6"/><circle cx="615.50" cy="324.10" r="1.6"/><circle cx="626.40" cy="324.50" r="1.6"/><circle cx="638.00" cy="324.50" r="1.6"/></g>
<g fill="#14b424"><circle cx="480.00" cy="325.20" r="1.6"/><circle cx="480.00" cy="312.70" r="1.6"/><circle cx="485.70" cy="307.80" r="1.6"/></g>
<rect x="473.60" y="231.80" width="170.70" height="152.40" fill="none" stroke="#666" stroke-width="1.15"/>
<line x1="470.40" y1="261.00" x2="473.60" y2="261.00" stroke="#222" stroke-width="1"/>
<line x1="470.40" y1="300.30" x2="473.60" y2="300.30" stroke="#222" stroke-width="1"/>
<line x1="470.40" y1="339.50" x2="473.60" y2="339.50" stroke="#222" stroke-width="1"/>
<line x1="470.40" y1="379.00" x2="473.60" y2="379.00" stroke="#222" stroke-width="1"/>
<line x1="479.60" y1="384.20" x2="479.60" y2="387.70" stroke="#222" stroke-width="1"/>
<line x1="517.40" y1="384.20" x2="517.40" y2="387.70" stroke="#222" stroke-width="1"/>
<line x1="555.20" y1="384.20" x2="555.20" y2="387.70" stroke="#222" stroke-width="1"/>
<line x1="593.00" y1="384.20" x2="593.00" y2="387.70" stroke="#222" stroke-width="1"/>
<line x1="630.80" y1="384.20" x2="630.80" y2="387.70" stroke="#222" stroke-width="1"/>
<text transform="translate(466.20,262.30) rotate(-90) scale(1,1.04)" font-size="11.4" text-anchor="middle" fill="#000" stroke="#000" stroke-width="0.2">-0.5</text>
<text transform="translate(466.20,301.60) rotate(-90) scale(1,1.04)" font-size="11.4" text-anchor="middle" fill="#000" stroke="#000" stroke-width="0.2">-1</text>
<text transform="translate(466.20,340.80) rotate(-90) scale(1,1.04)" font-size="11.4" text-anchor="middle" fill="#000" stroke="#000" stroke-width="0.2">-1.5</text>
<text transform="translate(466.20,380.30) rotate(-90) scale(1,1.04)" font-size="11.4" text-anchor="middle" fill="#000" stroke="#000" stroke-width="0.2">-2</text>
<text transform="translate(466.20,248.00) rotate(-90) scale(1,1.04)" font-size="11.4" text-anchor="start" fill="#000" stroke="#000" stroke-width="0.2">x 10</text>
<text transform="translate(458.90,225.20) rotate(-90) scale(1,1.04)" font-size="9" text-anchor="start" fill="#000" stroke="#000" stroke-width="0.2">5</text>
<text transform="translate(451.60,331.40) rotate(-90) scale(1,1.04)" font-size="12.2" text-anchor="start" fill="#000" stroke="#000" stroke-width="0.2">Loglikelihood</text>
<text transform="translate(478.85,397.10) scale(1,1.04)" font-size="11.4" text-anchor="middle" fill="#000" stroke="#000" stroke-width="0.2">0</text>
<text transform="translate(556.65,397.10) scale(1,1.04)" font-size="11.4" text-anchor="middle" fill="#000" stroke="#000" stroke-width="0.2">100,000</text>
<text transform="translate(631.15,397.10) scale(1,1.04)" font-size="11.4" text-anchor="middle" fill="#000" stroke="#000" stroke-width="0.2">200,000</text>
<text transform="translate(556.10,410.80) scale(1,1.04)" font-size="11.7" text-anchor="middle" fill="#000" stroke="#000" stroke-width="0.2">|E|</text>
</svg>
</body></html>
